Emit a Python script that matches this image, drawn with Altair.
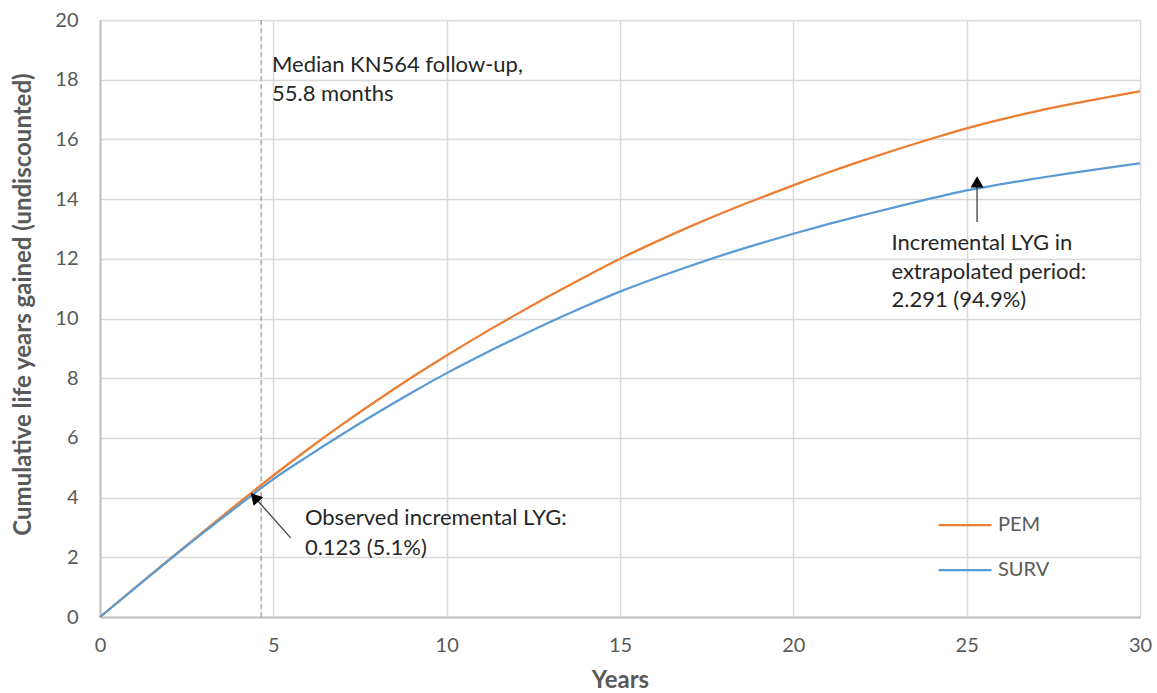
import altair as alt
import pandas as pd

# ---- data ----
years = list(range(0, 31))
pem = [0, 0.97, 1.93, 2.88, 3.82, 4.74, 5.62, 6.46, 7.26, 8.03, 8.76,
       9.46, 10.13, 10.78, 11.40, 12.00, 12.55, 13.07, 13.56, 14.02, 14.46,
       14.89, 15.29, 15.67, 16.03, 16.37, 16.67, 16.94, 17.18, 17.40, 17.61]
surv = [0, 0.96, 1.91, 2.84, 3.74, 4.62, 5.39, 6.13, 6.84, 7.52, 8.17,
        8.77, 9.34, 9.89, 10.41, 10.90, 11.34, 11.75, 12.14, 12.50, 12.84,
        13.16, 13.46, 13.75, 14.03, 14.29, 14.50, 14.69, 14.87, 15.04, 15.20]
series_names = ["PEM", "SURV"]
series_colors = ["#ED7D31", "#5B9BD5"]

median_followup_years = 4.65  # 55.8 months

# annotation text lines (x, baseline y in data units)
ann_text = ["Median KN564 follow-up,", "55.8 months",
            "Observed incremental LYG:", "0.123 (5.1%)",
            "Incremental LYG in", "extrapolated period:", "2.291 (94.9%)"]
ann_x = [4.96, 4.96, 5.91, 5.91, 22.83, 22.83, 22.83]
ann_y = [18.27, 17.30, 3.07, 2.09, 12.31, 11.34, 10.38]

# arrows: tail -> tip, plus arrowhead centre and angle
arrow_x = [5.50, 25.30]
arrow_y = [2.65, 13.23]
arrow_x2 = [4.44, 25.30]
arrow_y2 = [4.04, 14.55]
head_x = [4.46, 25.30]
head_y = [4.01, 14.58]
head_angle = [318, 0]

x_ticks = list(range(0, 31, 5))
y_ticks = list(range(0, 21, 2))

FONT = "Lato"
GRAY_TXT = "#595959"

df = pd.DataFrame({
    "t": years * 2,
    "value": pem + surv,
    "series": [series_names[0]] * len(years) + [series_names[1]] * len(years),
})
df_ann = pd.DataFrame({"x": ann_x, "y": ann_y, "text": ann_text})
df_arrow = pd.DataFrame({"x": arrow_x, "y": arrow_y, "x2": arrow_x2, "y2": arrow_y2})
df_head = pd.DataFrame({"x": head_x, "y": head_y, "angle": head_angle})
df_med = pd.DataFrame({"x": [median_followup_years], "y": [0], "y2": [20]})

xscale = alt.Scale(domain=[0, 30], nice=False, zero=True)
yscale = alt.Scale(domain=[0, 20], nice=False)

lines = alt.Chart(df).mark_line(strokeWidth=2.25, interpolate="monotone").encode(
    x=alt.X("t:Q", scale=xscale,
            axis=alt.Axis(values=x_ticks, title="Years", ticks=False, labelFlush=False,
                          labelPadding=18, titleY=63, titleBaseline="middle")),
    y=alt.Y("value:Q", scale=yscale,
            axis=alt.Axis(values=y_ticks,
                          title="Cumulative life years gained (undiscounted)",
                          ticks=False, labelFlush=False, labelPadding=22,
                          titleX=-77, titleY=284, titleBaseline="middle")),
    color=alt.Color("series:N",
                    scale=alt.Scale(domain=series_names, range=series_colors),
                    legend=alt.Legend(title=None, orient="none", legendX=837, legendY=477,
                                      symbolType="stroke", symbolSize=2809,
                                      symbolStrokeWidth=2.25, labelFontSize=20,
                                      labelFont=FONT, labelColor=GRAY_TXT,
                                      rowPadding=7, labelOffset=5)),
)

med = alt.Chart(df_med).mark_rule(color="#A6A6A6", strokeDash=[5, 3], strokeWidth=1.5).encode(
    x=alt.X("x:Q", scale=xscale), y=alt.Y("y:Q", scale=yscale), y2="y2:Q")

arrows = alt.Chart(df_arrow).mark_rule(color="#404040", strokeWidth=1.3).encode(
    x=alt.X("x:Q", scale=xscale), y=alt.Y("y:Q", scale=yscale), x2="x2:Q", y2="y2:Q")

heads = alt.Chart(df_head).mark_point(shape="triangle-up", filled=True, color="#000000",
                                      size=170, opacity=1).encode(
    x=alt.X("x:Q", scale=xscale), y=alt.Y("y:Q", scale=yscale),
    angle=alt.Angle("angle:Q", scale=None))

texts = alt.Chart(df_ann).mark_text(align="left", baseline="alphabetic", font=FONT,
                                    fontSize=22, color="#262626").encode(
    x=alt.X("x:Q", scale=xscale), y=alt.Y("y:Q", scale=yscale), text="text:N")

chart = alt.layer(med, lines, arrows, heads, texts).properties(
    width=1040, height=597,
    background="white",
    autosize=alt.AutoSizeParams(type="none"),
    padding={"left": 100, "top": 20, "right": 17, "bottom": 76},
).configure_view(stroke=None).configure_axis(
    labelFont=FONT, labelFontSize=20, labelColor=GRAY_TXT,
    titleFont=FONT, titleFontSize=24, titleColor=GRAY_TXT, titleFontWeight="bold",
    gridColor="#D9D9D9", gridWidth=1.5, domainColor="#BFBFBF", domainWidth=2,
)

chart.save("out.html", embed_options={"renderer": "svg", "actions": False})
